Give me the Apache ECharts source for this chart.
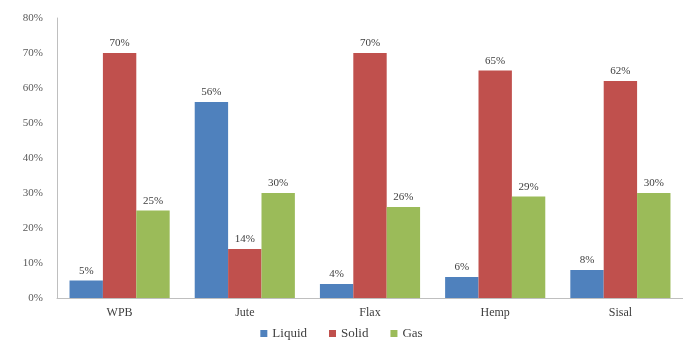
<!DOCTYPE html>
<html><head><meta charset="utf-8">
<script src="https://cdn.jsdelivr.net/npm/echarts@6/dist/echarts.min.js"></script>
<style>html,body{margin:0;padding:0;background:#fff}#c{width:683px;height:341px}</style>
</head><body><div id="c"></div>
<script>
const categories = ['WPB', 'Jute', 'Flax', 'Hemp', 'Sisal'];
const liquid = [5, 56, 4, 6, 8];
const solid = [70, 14, 70, 65, 62];
const gas = [25, 30, 26, 29, 30];
const seriesNames = ['Liquid', 'Solid', 'Gas'];
const colors = ['#4F81BD', '#C0504D', '#9BBB59'];
const font = 'Liberation Serif';
const chart = echarts.init(document.getElementById('c'));
const mk = (name, data, color) => ({
  name, type: 'bar', data, barGap: '0%', barCategoryGap: '20%',
  itemStyle: { color },
  label: { show: true, position: 'top', formatter: '{c}%', fontFamily: font, fontSize: 11, color: '#404040', distance: 4 }
});
chart.setOption({
  animation: false,
  textStyle: { fontFamily: font },
  grid: { left: 57, right: 0, top: 18, bottom: 43 },
  legend: {
    top: 322, left: 'center', itemWidth: 7, itemHeight: 7, itemGap: 22,
    textStyle: { fontFamily: font, fontSize: 13, color: '#404040' },
    data: seriesNames.map(n => ({ name: n, icon: 'rect' }))
  },
  xAxis: {
    type: 'category', data: categories,
    axisLine: { lineStyle: { color: '#bfbfbf' } },
    axisTick: { show: false },
    axisLabel: { fontFamily: font, fontSize: 12, color: '#404040', margin: 9 }
  },
  yAxis: {
    type: 'value', min: 0, max: 80, interval: 10,
    axisLine: { show: true, lineStyle: { color: '#bfbfbf' } },
    axisTick: { show: false },
    splitLine: { show: false },
    axisLabel: { formatter: '{value}%', fontFamily: font, fontSize: 11, color: '#595959', margin: 14 }
  },
  series: [mk(seriesNames[0], liquid, colors[0]), mk(seriesNames[1], solid, colors[1]), mk(seriesNames[2], gas, colors[2])]
});
</script></body></html>
